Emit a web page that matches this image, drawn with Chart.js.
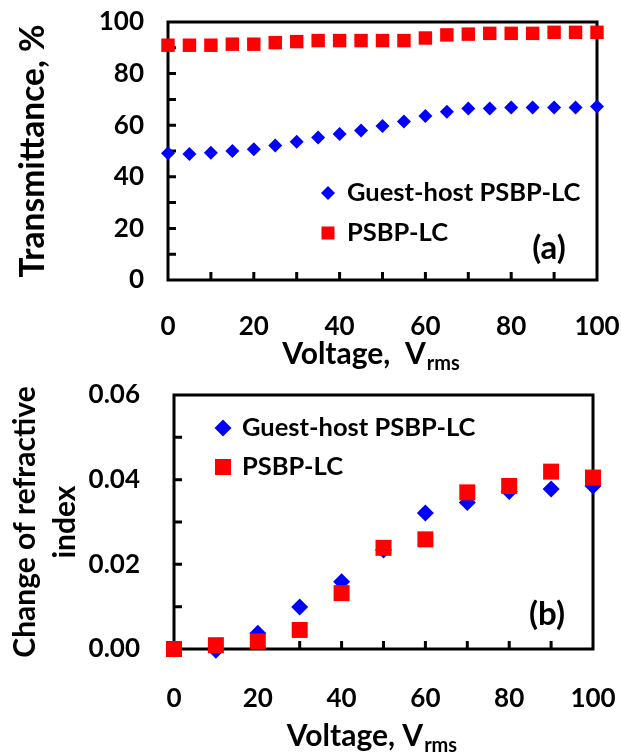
<!DOCTYPE html>
<html>
<head>
<meta charset="utf-8">
<script src="https://cdn.jsdelivr.net/npm/chart.js@4.4.0/dist/chart.umd.min.js"></script>
<style>
  body { margin: 0; background: #fff; }
  canvas { position: absolute; left: 0; }
</style>
</head>
<body>
<canvas id="chartA" width="621" height="377" style="top:0"></canvas>
<canvas id="chartB" width="621" height="378" style="top:377px"></canvas>
<script>
// panel (a): transmittance vs voltage
const voltsA = [0, 5, 10, 15, 20, 25, 30, 35, 40, 45, 50, 55, 60, 65, 70, 75, 80, 85, 90, 95, 100];
const guestHostT = [49.1, 48.8, 49.3, 50.0, 50.7, 52.1, 53.6, 55.2, 56.6, 57.9, 59.7, 61.4, 63.6, 65.2, 66.5, 66.5, 66.9, 66.9, 66.9, 66.9, 67.2];
const psbpT = [91.0, 91.0, 91.0, 91.4, 91.4, 92.0, 92.4, 92.8, 92.8, 92.8, 92.8, 92.8, 93.8, 95.0, 95.3, 95.6, 95.6, 95.6, 96.0, 96.0, 96.0];
// panel (b): change of refractive index vs voltage
const voltsB = [0, 10, 20, 30, 40, 50, 60, 70, 80, 90, 100];
const guestHostDn = [0.0, -0.0003, 0.0037, 0.0099, 0.0159, 0.0234, 0.0321, 0.0346, 0.0372, 0.0378, 0.0385];
const psbpDn = [0.0, 0.0009, 0.0018, 0.0045, 0.0132, 0.0239, 0.0259, 0.0370, 0.0385, 0.0419, 0.0405];

const xTickLabels = [0, 20, 40, 60, 80, 100];
const yTickLabelsA = [0, 20, 40, 60, 80, 100];
const yTickLabelsB = [0, 0.02, 0.04, 0.06];
const seriesNames = ['Guest-host PSBP-LC', 'PSBP-LC'];

const FONT = 'Lato, "Open Sans", sans-serif';
const BLUE = '#0000ff';
const RED = '#ff0000';

function pts(xs, ys) {
  return ys.map((y, i) => ({ x: xs[i], y: y }));
}

// box around the plot with inward ticks on left and bottom
const framePlugin = {
  id: 'frame',
  beforeDatasetsDraw(chart, args, o) {
    const { ctx, chartArea: a, scales } = chart;
    ctx.save();
    ctx.strokeStyle = '#000';
    ctx.lineWidth = 3;
    ctx.strokeRect(a.left, a.top, a.right - a.left, a.bottom - a.top);
    ctx.beginPath();
    for (let v = scales.x.min + o.xStep; v < scales.x.max - 1e-9; v += o.xStep) {
      const px = scales.x.getPixelForValue(v);
      ctx.moveTo(px, a.bottom);
      ctx.lineTo(px, a.bottom - 8);
    }
    for (let v = scales.y.min + o.yStep; v < scales.y.max - 1e-9; v += o.yStep) {
      const py = scales.y.getPixelForValue(v);
      ctx.moveTo(a.left, py);
      ctx.lineTo(a.left + 8, py);
    }
    ctx.stroke();
    ctx.restore();
  },
  afterDraw(chart, args, o) {
    const { ctx, chartArea: a } = chart;
    ctx.save();
    ctx.fillStyle = '#000';
    // x title with subscript
    const main = o.xTitle, sub = 'rms';
    ctx.font = 'bold 30px ' + FONT;
    const w1 = ctx.measureText(main).width;
    ctx.font = 'bold 20px ' + FONT;
    const w2 = ctx.measureText(sub).width;
    let x0 = (a.left + a.right) / 2 - 12 - (w1 + w2) / 2;
    ctx.textBaseline = 'alphabetic';
    ctx.textAlign = 'left';
    ctx.font = 'bold 30px ' + FONT;
    ctx.fillText(main, x0, o.xTitleY);
    ctx.font = 'bold 20px ' + FONT;
    ctx.fillText(sub, x0 + w1 + 1, o.xTitleY + 6);

    // legend
    ctx.font = 'bold 25.5px ' + FONT;
    ctx.textBaseline = 'middle';
    chart.data.datasets.forEach((ds, i) => {
      const y = o.legendY + i * o.legendGap;
      const x = o.legendX;
      ctx.fillStyle = ds.backgroundColor;
      ctx.beginPath();
      if (ds.pointStyle === 'rectRot') {
        const r = o.legendDiamond;
        ctx.moveTo(x - r, y); ctx.lineTo(x, y - r); ctx.lineTo(x + r, y); ctx.lineTo(x, y + r);
        ctx.closePath();
      } else {
        const s = o.legendSquare;
        ctx.rect(x - s / 2, y - s / 2, s, s);
      }
      ctx.fill();
      ctx.fillStyle = '#000';
      ctx.fillText(ds.label, x + 19, y);
    });

    // panel label
    ctx.font = 'bold 33px ' + FONT;
    ctx.textAlign = 'center';
    ctx.fillText(o.panel, o.panelX, o.panelY);
    ctx.restore();
  }
};

function makeChart(id, cfg) {
  return new Chart(document.getElementById(id), {
    type: 'scatter',
    data: {
      datasets: [
        {
          label: seriesNames[0],
          data: cfg.gh,
          pointStyle: 'rectRot',
          pointRadius: cfg.diamondR,
          backgroundColor: BLUE,
          borderWidth: 0,
          order: 2,
          clip: false
        },
        {
          label: seriesNames[1],
          data: cfg.ps,
          pointStyle: 'rect',
          pointRadius: cfg.squareR,
          backgroundColor: RED,
          borderWidth: 0,
          order: 1,
          clip: false
        }
      ]
    },
    options: {
      responsive: false,
      animation: false,
      events: [],
      layout: { padding: { top: cfg.padTop, right: cfg.padRight, left: 0, bottom: 0 } },
      scales: {
        x: {
          type: 'linear', min: 0, max: 100,
          afterBuildTicks: s => { s.ticks = xTickLabels.map(v => ({ value: v })); },
          afterFit: s => { s.height = cfg.xHeight; },
          grid: { display: false, drawTicks: true, tickLength: cfg.xGap },
          border: { display: false },
          ticks: { color: '#000', font: { family: FONT, size: 26, weight: 'bold' }, padding: 0, maxRotation: 0 }
        },
        y: {
          min: cfg.yMin, max: cfg.yMax,
          afterBuildTicks: s => { s.ticks = cfg.yTicks.map(v => ({ value: v })); },
          afterFit: s => { s.width = cfg.yWidth; },
          grid: { display: false, drawTicks: true, tickLength: cfg.yGap },
          border: { display: false },
          ticks: {
            color: '#000', font: { family: FONT, size: 26, weight: 'bold' }, padding: 0,
            callback: v => cfg.yFmt(v)
          },
          title: {
            display: true, text: cfg.yTitle, color: '#000',
            font: { family: FONT, size: cfg.yTitleSize, weight: 'bold', lineHeight: cfg.yTitleLH },
            padding: { top: cfg.yTitlePad, bottom: 0 }
          }
        }
      },
      plugins: {
        legend: { display: false },
        tooltip: { enabled: false },
        frame: cfg.frame
      }
    },
    plugins: [framePlugin]
  });
}

makeChart('chartA', {
  gh: pts(voltsA, guestHostT), ps: pts(voltsA, psbpT),
  diamondR: 7, squareR: 9.5,
  padTop: 22, padRight: 24, xHeight: 97, xGap: 31, yWidth: 168, yGap: 24,
  yMin: 0, yMax: 100, yTicks: yTickLabelsA, yFmt: v => String(v),
  yTitle: 'Transmittance, %', yTitleSize: 33.5, yTitleLH: 1.2, yTitlePad: 13,
  frame: {
    xStep: 10, yStep: 10, xTitle: 'Voltage,  V', xTitleY: 364,
    legendX: 328, legendY: 193, legendGap: 40, legendDiamond: 7, legendSquare: 13,
    panel: '(a)', panelX: 549, panelY: 248
  }
});

makeChart('chartB', {
  gh: pts(voltsB, guestHostDn), ps: pts(voltsB, psbpDn),
  diamondR: 8.5, squareR: 11.3,
  padTop: 18, padRight: 28, xHeight: 106, xGap: 34, yWidth: 174, yGap: 34,
  yMin: 0, yMax: 0.06, yTicks: yTickLabelsB, yFmt: v => v.toFixed(2),
  yTitle: ['Change of refractive', 'index'], yTitleSize: 30, yTitleLH: 1.333, yTitlePad: 5,
  frame: {
    xStep: 10, yStep: 0.01, xTitle: 'Voltage, V', xTitleY: 369,
    legendX: 223, legendY: 51, legendGap: 39, legendDiamond: 8.5, legendSquare: 16,
    panel: '(b)', panelX: 547, panelY: 237
  }
});
</script>
</body>
</html>
